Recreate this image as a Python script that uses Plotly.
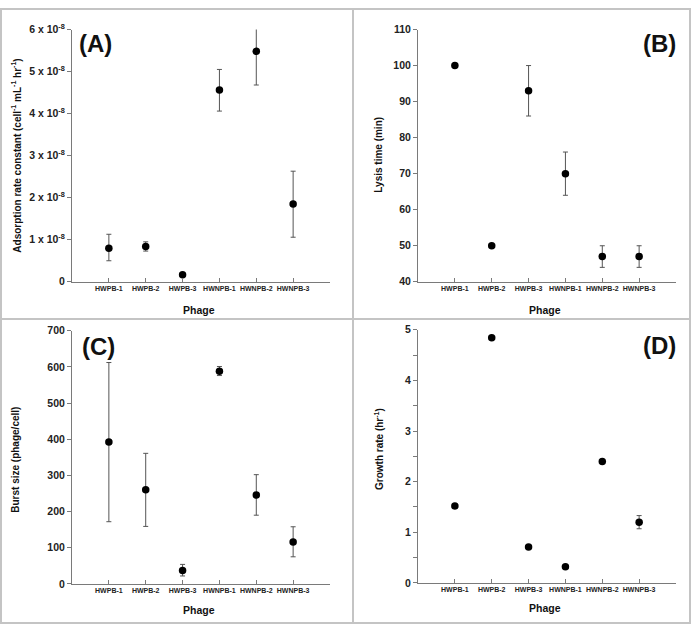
import plotly.graph_objects as go

W, H = 692, 631

phages = ["HWPB-1", "HWPB-2", "HWPB-3", "HWNPB-1", "HWNPB-2", "HWNPB-3"]
xpos = [1, 2, 3, 4, 5, 6]

# (A) Adsorption rate constant (cell^-1 mL^-1 hr^-1)
ads_vals = [0.80e-8, 0.84e-8, 0.17e-8, 4.56e-8, 5.48e-8, 1.85e-8]
ads_err_plus = [0.33e-8, 0.11e-8, 0.02e-8, 0.49e-8, 0.80e-8, 0.78e-8]
ads_err_minus = [0.30e-8, 0.11e-8, 0.02e-8, 0.50e-8, 0.80e-8, 0.79e-8]
ads_ticks = [0, 1e-8, 2e-8, 3e-8, 4e-8, 5e-8, 6e-8]
ads_ticktext = ["0", "1 x 10<sup>-8</sup>", "2 x 10<sup>-8</sup>", "3 x 10<sup>-8</sup>",
                "4 x 10<sup>-8</sup>", "5 x 10<sup>-8</sup>", "6 x 10<sup>-8</sup>"]

# (B) Lysis time (min)
lysis_vals = [100, 50, 93, 70, 47, 47]
lysis_err = [0, 0, 7, 6, 3, 3]
lysis_ticks = [40, 50, 60, 70, 80, 90, 100, 110]

# (C) Burst size (phage/cell)
burst_vals = [392, 260, 37, 588, 246, 116]
burst_err_plus = [220, 101, 17, 13, 56, 42]
burst_err_minus = [220, 101, 15, 12, 56, 41]
burst_ticks = [0, 100, 200, 300, 400, 500, 600, 700]

# (D) Growth rate (hr^-1)
growth_vals = [1.52, 4.84, 0.71, 0.32, 2.40, 1.20]
growth_err = [0.02, 0.02, 0.03, 0.02, 0.02, 0.13]
growth_ticks = [0, 1, 2, 3, 4, 5]

FONT = "Arial, Liberation Sans, sans-serif"
AXCOL = "#7a7a7a"
ERRCOL = "#555555"

def bold(items):
    return ["<b>%s</b>" % t for t in items]

fig = go.Figure()

def add(xa, ya, vals, ep, em):
    fig.add_trace(go.Scatter(
        x=xpos, y=vals, mode="markers", xaxis=xa, yaxis=ya,
        marker=dict(color="black", size=7.5),
        error_y=dict(type="data", array=ep, arrayminus=em, color=ERRCOL,
                     thickness=1, width=2.5, visible=True),
        showlegend=False, cliponaxis=True))

add("x", "y", ads_vals, ads_err_plus, ads_err_minus)
add("x2", "y2", lysis_vals, lysis_err, lysis_err)
add("x3", "y3", burst_vals, burst_err_plus, burst_err_minus)
add("x4", "y4", growth_vals, growth_err, growth_err)

def px(x):
    return x / W

def py(y):
    return 1 - y / H

left_dom = [px(72), px(330)]
right_dom = [px(418), px(676)]
top_dom = [py(280), py(22)]
bot_dom = [py(589), py(330)]

xcommon = dict(range=[0, 7], tickvals=xpos, ticktext=bold(phages),
               ticks="inside", ticklen=4,
               minor=dict(tickvals=[7], ticks="inside", ticklen=4, tickcolor=AXCOL),
               tickcolor=AXCOL, showline=True, linecolor=AXCOL, linewidth=1,
               showgrid=False, zeroline=False,
               tickfont=dict(family=FONT, size=7, color="#222"))
ycommon = dict(ticks="outside", ticklen=4, tickcolor=AXCOL, showline=True,
               linecolor=AXCOL, linewidth=1, showgrid=False, zeroline=False,
               tickfont=dict(family=FONT, size=10.5, color="#222"))

fig.update_layout(
    width=W, height=H, margin=dict(l=0, r=0, t=0, b=0),
    paper_bgcolor="white", plot_bgcolor="white",
    font=dict(family=FONT, color="#222"),
    xaxis=dict(domain=left_dom, anchor="y", **xcommon),
    yaxis=dict(domain=top_dom, anchor="x", range=[0, 6e-8],
               tickvals=ads_ticks, ticktext=bold(ads_ticktext), **ycommon),
    xaxis2=dict(domain=right_dom, anchor="y2", **xcommon),
    yaxis2=dict(domain=top_dom, anchor="x2", range=[40, 110],
                tickvals=lysis_ticks, ticktext=bold(lysis_ticks), **ycommon),
    xaxis3=dict(domain=left_dom, anchor="y3", **xcommon),
    yaxis3=dict(domain=bot_dom, anchor="x3", range=[0, 700],
                tickvals=burst_ticks, ticktext=bold(burst_ticks), **ycommon),
    xaxis4=dict(domain=right_dom, anchor="y4", **xcommon),
    yaxis4=dict(domain=[py(588), py(329)], anchor="x4", range=[0, 5],
                tickvals=growth_ticks, ticktext=bold(growth_ticks),
                minor=dict(dtick=0.5, ticks="outside", ticklen=4, tickcolor=AXCOL),
                **ycommon),
)

def ann(text, x, y, size, angle=0, xanchor="center"):
    fig.add_annotation(text=text, x=px(x), y=py(y), xref="paper", yref="paper",
                       showarrow=False, textangle=angle, xanchor=xanchor,
                       yanchor="middle",
                       font=dict(family=FONT, size=size, color="#111"))

# axis titles
ann("<b>Phage</b>", 199, 309, 10.5)
ann("<b>Phage</b>", 545, 309, 10.5)
ann("<b>Phage</b>", 199, 616, 10.5)
ann("<b>Phage</b>", 545, 614, 10.5)
ann("<b>Adsorption rate constant (cell<sup>-1</sup> mL<sup>-1</sup> hr<sup>-1</sup>)</b>", 16, 151, 10, -90)
ann("<b>Lysis time (min)</b>", 379, 150, 10, -90)
ann("<b>Burst size (phage/cell)</b>", 16, 462, 10, -90)
ann("<b>Growth rate (hr<sup>-1</sup>)</b>", 379, 451, 10, -90)

# panel letters
ann("<b>(A)</b>", 77, 36, 24, xanchor="left")
ann("<b>(B)</b>", 678, 36, 24, xanchor="right")
ann("<b>(C)</b>", 80, 346, 24, xanchor="left")
ann("<b>(D)</b>", 678, 345, 24, xanchor="right")

# panel frames
FR = "#c4c4c4"
fig.add_shape(type="rect", xref="paper", yref="paper",
              x0=px(1), x1=px(690), y0=py(629), y1=py(1),
              line=dict(color=FR, width=2))
fig.add_shape(type="line", xref="paper", yref="paper",
              x0=px(353), x1=px(353), y0=py(629), y1=py(1),
              line=dict(color=FR, width=2))
fig.add_shape(type="line", xref="paper", yref="paper",
              x0=px(1), x1=px(690), y0=py(318), y1=py(318),
              line=dict(color=FR, width=2))

fig.write_html("out.html",
               config={"displayModeBar": False},
               post_script="document.body.style.margin='0';"
                           "document.body.style.overflow='hidden';")
